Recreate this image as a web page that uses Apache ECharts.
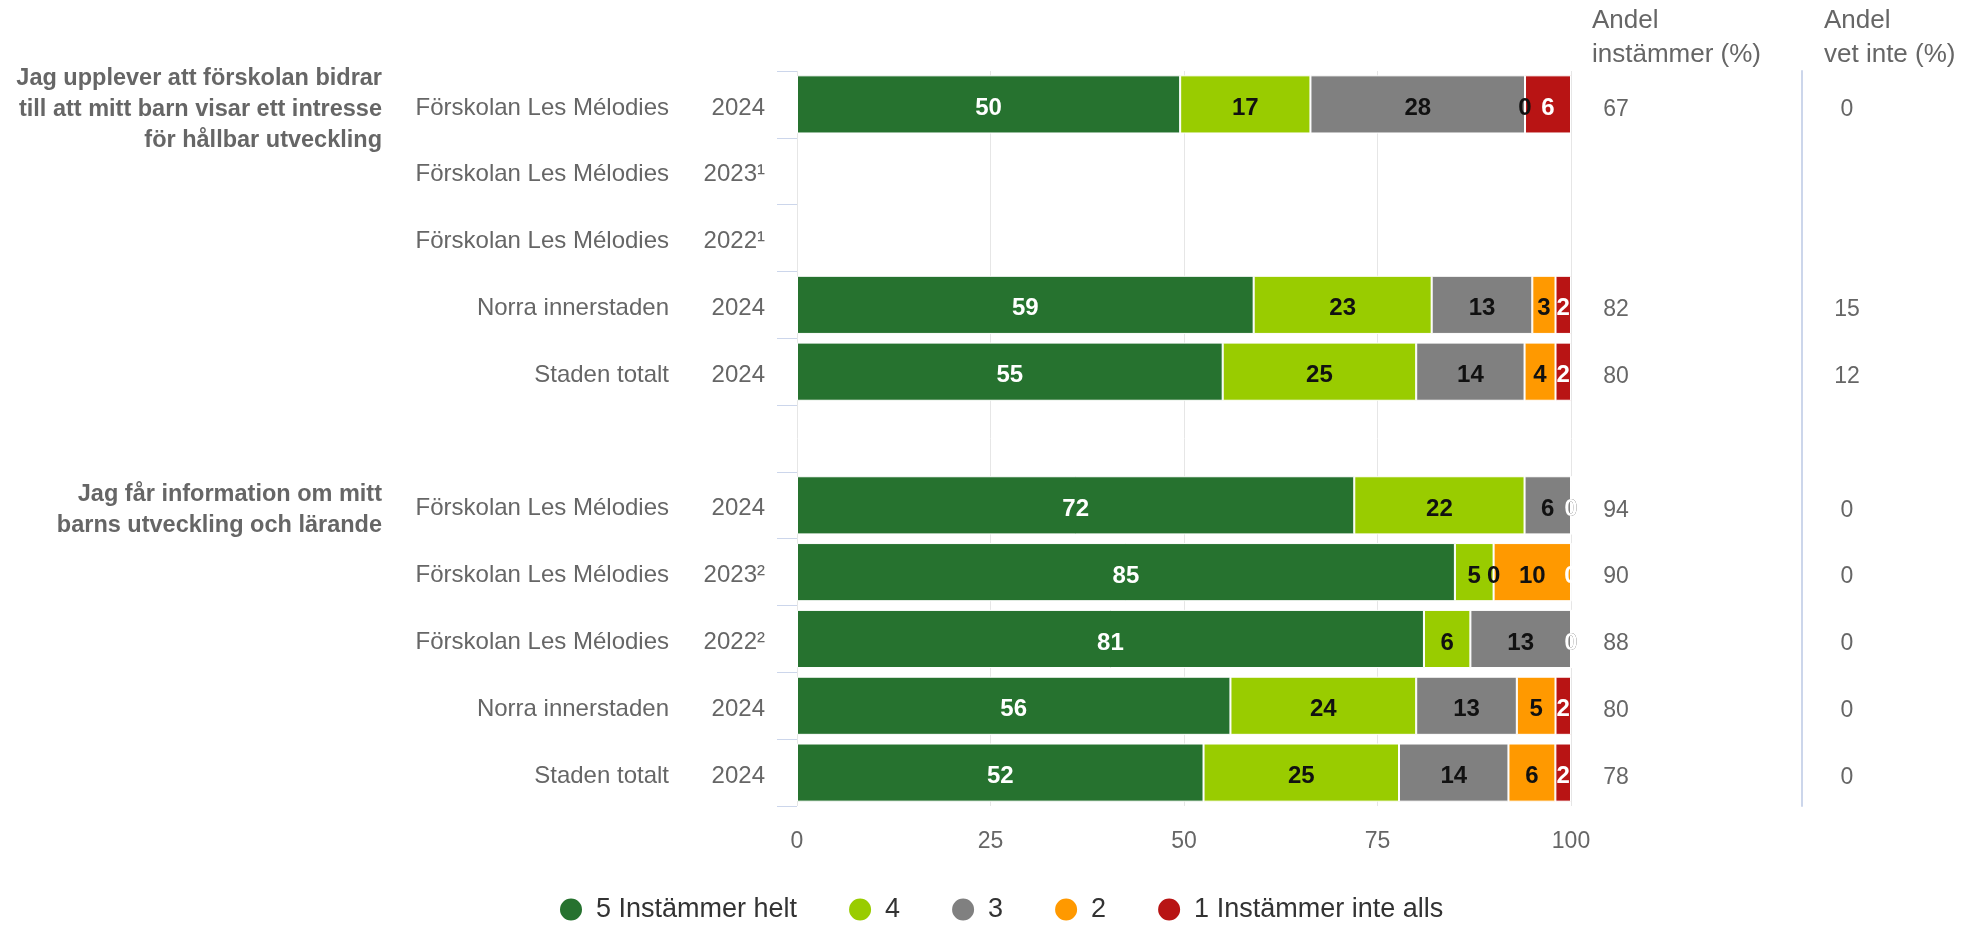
<!DOCTYPE html>
<html>
<head>
<meta charset="utf-8">
<script src="https://cdn.jsdelivr.net/npm/echarts@6/dist/echarts.min.js"></script>
<style>
html,body{margin:0;padding:0;background:#fff;}
#chart{width:1965px;height:925px;}
</style>
</head>
<body>
<div id="chart"></div>
<script>
// ---- data ----
const questions = [
  'Jag upplever att förskolan bidrar\ntill att mitt barn visar ett intresse\nför hållbar utveckling',
  '', '', '', '', '',
  'Jag får information om mitt\nbarns utveckling och lärande',
  '', '', '', ''
];
const units = [
  'Förskolan Les Mélodies', 'Förskolan Les Mélodies', 'Förskolan Les Mélodies', 'Norra innerstaden', 'Staden totalt',
  '',
  'Förskolan Les Mélodies', 'Förskolan Les Mélodies', 'Förskolan Les Mélodies', 'Norra innerstaden', 'Staden totalt'
];
const years = ['2024', '2023¹', '2022¹', '2024', '2024', '', '2024', '2023²', '2022²', '2024', '2024'];
const seriesNames = ['5 Instämmer helt', '4', '3', '2', '1 Instämmer inte alls'];
const v5 = [50, null, null, 59, 55, null, 72, 85, 81, 56, 52];
const v4 = [17, null, null, 23, 25, null, 22, 5, 6, 24, 25];
const v3 = [28, null, null, 13, 14, null, 6, 0, 13, 13, 14];
const v2 = [0, null, null, 3, 4, null, 0, 10, 0, 5, 6];
const v1 = [6, null, null, 2, 2, null, 0, 0, 0, 2, 2];
const andelInstammer = [67, null, null, 82, 80, null, 94, 90, 88, 80, 78];
const andelVetInte = [0, null, null, 15, 12, null, 0, 0, 0, 0, 0];
const xTicks = [0, 25, 50, 75, 100];

// ---- styles ----
const colors = ['#26722f', '#99cc00', '#808080', '#ff9900', '#b81414'];
const labelColors = ['#ffffff', '#111111', '#111111', '#111111', '#ffffff'];
const FONT = '"Liberation Sans", Arial, Helvetica, sans-serif';

const raw = [v5, v4, v3, v2, v1];
const rowKeys = units.map((u, i) => 'r' + i);
const totals = rowKeys.map((k, i) => {
  let s = 0, any = false;
  raw.forEach(arr => { if (arr[i] != null) { s += arr[i]; any = true; } });
  return any ? s : null;
});

const series = raw.map((arr, si) => ({
  name: seriesNames[si],
  type: 'bar',
  stack: 'total',
  xAxisIndex: 0,
  yAxisIndex: 0,
  barCategoryGap: '13%',
  itemStyle: { color: colors[si], borderColor: '#ffffff', borderWidth: 1 },
  label: {
    show: true,
    position: 'inside',
    offset: [0, 4],
    fontFamily: FONT,
    fontSize: 24,
    fontWeight: 'bold',
    color: labelColors[si],
    formatter: p => String(arr[p.dataIndex])
  },
  emphasis: { disabled: true },
  data: arr.map((v, i) => v == null ? '-' : v / totals[i] * 100)
}));

const chart = echarts.init(document.getElementById('chart'), null, { renderer: 'canvas' });
chart.setOption({
  animation: false,
  backgroundColor: '#ffffff',
  textStyle: { fontFamily: FONT },
  title: [
    { text: 'Andel\ninstämmer (%)', left: 1592, top: 4, padding: 0,
      textStyle: { fontFamily: FONT, fontSize: 26, fontWeight: 'normal', color: '#666666', lineHeight: 34 } },
    { text: 'Andel\nvet inte (%)', left: 1824, top: 4, padding: 0,
      textStyle: { fontFamily: FONT, fontSize: 26, fontWeight: 'normal', color: '#666666', lineHeight: 34 } }
  ],
  legend: {
    data: seriesNames,
    left: 558,
    top: 896,
    padding: 0,
    icon: 'circle',
    itemWidth: 24,
    itemHeight: 24,
    itemGap: 50,
    selectedMode: false,
    textStyle: { fontFamily: FONT, fontSize: 27, color: '#333333', padding: [0, 0, 0, 8] }
  },
  grid: [
    { left: 797, right: 394, top: 71, bottom: 119, containLabel: false },
    { left: 797, right: 394, top: 76, bottom: 114, containLabel: false }
  ],
  xAxis: [
    {
      type: 'value',
      gridIndex: 0,
      min: xTicks[0],
      max: xTicks[xTicks.length - 1],
      interval: 25,
      axisLine: { show: false },
      axisTick: { show: false },
      splitLine: { show: true, lineStyle: { color: '#e6e6e6', width: 1 } },
      axisLabel: { margin: 24, fontFamily: FONT, fontSize: 23, color: '#666666' }
    },
    {
      type: 'value',
      gridIndex: 1,
      show: false,
      min: 0,
      max: 100
    }
  ],
  yAxis: [
    {
      type: 'category',
      gridIndex: 0,
      data: rowKeys,
      inverse: true,
      position: 'left',
      axisLine: { show: false },
      axisTick: { show: true, length: 20, lineStyle: { color: '#ccd6eb', width: 1 } },
      splitLine: { show: false },
      axisLabel: {
        interval: 0,
        margin: 32,
        formatter: (v, i) => units[i] ? '{n|' + units[i] + '}{y|' + years[i] + '}' : '',
        rich: {
          n: { width: 330, align: 'right', fontFamily: FONT, fontSize: 24, color: '#666666', padding: [7, 0, 0, 0] },
          y: { width: 96, align: 'right', fontFamily: FONT, fontSize: 24, color: '#666666', padding: [7, 0, 0, 0] }
        }
      }
    },
    {
      type: 'category',
      gridIndex: 1,
      data: rowKeys,
      inverse: true,
      position: 'left',
      axisLine: { show: false },
      axisTick: { show: false },
      splitLine: { show: false },
      axisLabel: {
        interval: 0,
        margin: 415,
        align: 'right',
        fontFamily: FONT,
        fontSize: 23.5,
        fontWeight: 'bold',
        lineHeight: 31,
        color: '#666666',
        formatter: (v, i) => questions[i]
      }
    },
    {
      type: 'category',
      gridIndex: 0,
      data: rowKeys,
      inverse: true,
      position: 'right',
      axisLine: { show: false },
      axisTick: { show: false },
      splitLine: { show: false },
      axisLabel: {
        interval: 0,
        margin: 15,
        formatter: (v, i) => andelInstammer[i] == null ? '' : '{v|' + andelInstammer[i] + '}',
        rich: { v: { width: 60, align: 'center', fontFamily: FONT, fontSize: 23, color: '#666666', padding: [10, 0, 0, 0] } }
      }
    },
    {
      type: 'category',
      gridIndex: 0,
      data: rowKeys,
      inverse: true,
      position: 'right',
      offset: 231,
      axisLine: { show: true, lineStyle: { color: '#ccd6eb', width: 2 } },
      axisTick: { show: false },
      splitLine: { show: false },
      axisLabel: {
        interval: 0,
        margin: 15,
        formatter: (v, i) => andelVetInte[i] == null ? '' : '{v|' + andelVetInte[i] + '}',
        rich: { v: { width: 60, align: 'center', fontFamily: FONT, fontSize: 23, color: '#666666', padding: [10, 0, 0, 0] } }
      }
    }
  ],
  series: series
});
</script>
</body>
</html>
